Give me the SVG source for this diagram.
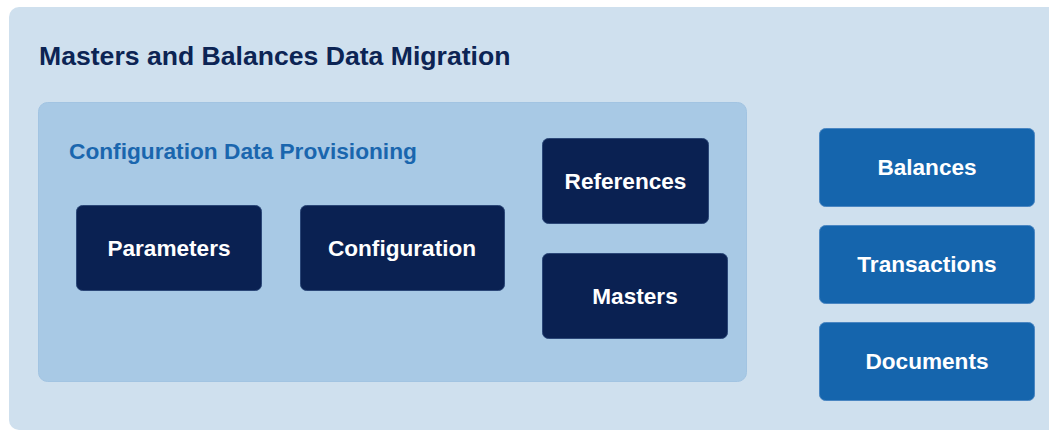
<svg xmlns="http://www.w3.org/2000/svg" width="1049" height="431" viewBox="0 0 1049 431">
  <style>
    .outer { fill: #cfe0ee; }
    .inner { fill: #a8c9e5; stroke: #a2c4e2; stroke-width: 1; }
    .dark { fill: #0a2152; stroke: #2b4778; stroke-width: 1; }
    .blue { fill: #1565ad; stroke: #4a86c2; stroke-width: 1; }
    .title { font-family: "Liberation Sans", Arial, sans-serif; font-weight: bold; font-size: 26.6px; fill: #0c2454; }
    .sub { font-family: "Liberation Sans", Arial, sans-serif; font-weight: bold; font-size: 22.7px; fill: #1a66ae; }
    .lbl { font-family: "Liberation Sans", Arial, sans-serif; font-weight: bold; font-size: 22.6px; fill: #ffffff; text-anchor: middle; }
  </style>

  <rect width="1049" height="431" fill="#ffffff"/>

  <!-- outer container: whole migration scope -->
  <g id="masters-balances">
    <rect class="outer" x="9" y="7" width="1070" height="423" rx="10" ry="10"/>
    <text class="title" x="39" y="65">Masters and Balances Data Migration</text>
  </g>

  <!-- nested container: configuration data -->
  <g id="configuration-provisioning">
    <rect class="inner" x="38.5" y="102.5" width="708" height="279" rx="9" ry="9"/>
    <text class="sub" x="69" y="158.5">Configuration Data Provisioning</text>
  </g>

  <g id="parameters">
    <rect class="dark" x="76.5" y="205.5" width="185" height="85" rx="6" ry="6"/>
    <text class="lbl" x="169" y="255.5">Parameters</text>
  </g>

  <g id="configuration">
    <rect class="dark" x="300.5" y="205.5" width="204" height="85" rx="6" ry="6"/>
    <text class="lbl" x="402" y="255.5">Configuration</text>
  </g>

  <g id="references">
    <rect class="dark" x="542.5" y="138.5" width="166" height="85" rx="6" ry="6"/>
    <text class="lbl" x="625.5" y="188.5">References</text>
  </g>

  <g id="masters">
    <rect class="dark" x="542.5" y="253.5" width="185" height="85" rx="6" ry="6"/>
    <text class="lbl" x="635" y="303.5">Masters</text>
  </g>

  <g id="balances">
    <rect class="blue" x="819.5" y="128.5" width="215" height="78" rx="6" ry="6"/>
    <text class="lbl" x="927" y="175">Balances</text>
  </g>

  <g id="transactions">
    <rect class="blue" x="819.5" y="225.5" width="215" height="78" rx="6" ry="6"/>
    <text class="lbl" x="927" y="272">Transactions</text>
  </g>

  <g id="documents">
    <rect class="blue" x="819.5" y="322.5" width="215" height="78" rx="6" ry="6"/>
    <text class="lbl" x="927" y="369">Documents</text>
  </g>

  <!-- no connectors between these blocks -->
  <g id="connectors"/>
</svg>
